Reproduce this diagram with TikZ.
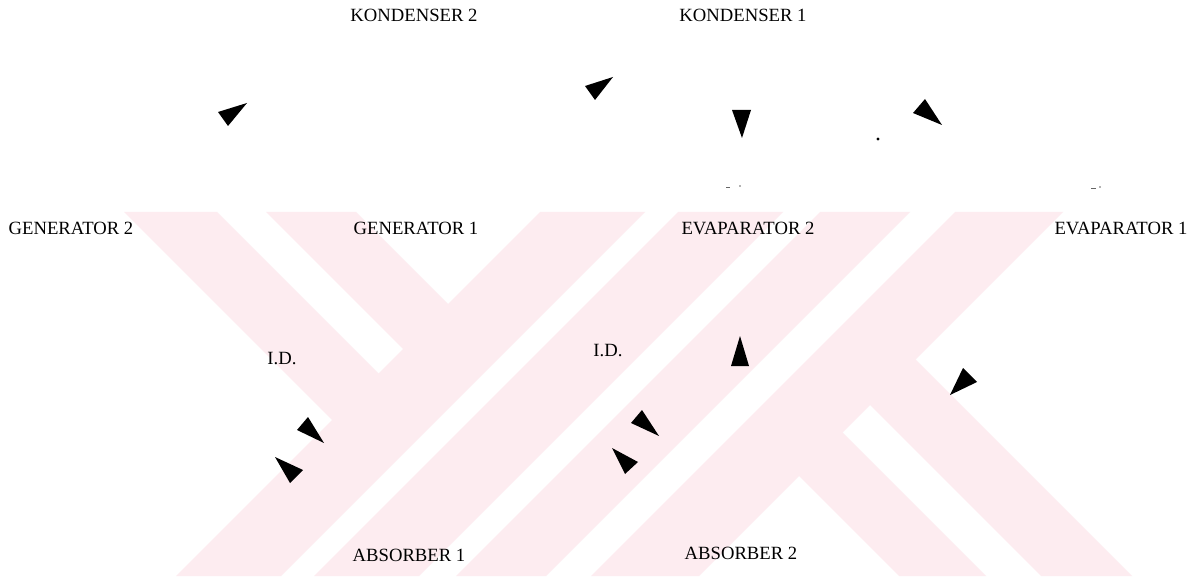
\documentclass[tikz,border=0pt]{standalone}
\usepackage{fontspec}
\setmainfont{Liberation Serif}
\definecolor{wmpink}{RGB}{253,236,240}
\tikzset{
  lbl/.style={inner sep=0pt, font=\fontsize{14}{16}\selectfont},
  band/.style={fill=wmpink, draw=none},
  ahead/.style={fill=black, draw=none},
  speck/.style={fill=black!60, draw=none},
}
\begin{document}
\begin{tikzpicture}[x=0.75pt,y=-0.75pt]
\useasboundingbox (0,0) rectangle (1204,581);
\fill[white] (0,0) rectangle (1204,581);
% watermark bands
\begin{scope}
\clip (0,212) rectangle (1204,576);
\fill[band] (124,212) -- (217,212) -- (382.5,377.5) -- (336,424) -- cycle;
\fill[band] (266,212) -- (356,212) -- (452,308) -- (407,353) -- cycle;
\fill[band] (540,212) -- (645,212) -- (281,576) -- (176,576) -- cycle;
\fill[band] (678,212) -- (783,212) -- (419,576) -- (314,576) -- cycle;
\fill[band] (820,212) -- (910,212) -- (546,576) -- (456,576) -- cycle;
\fill[band] (955,212) -- (1063,212) -- (699,576) -- (591,576) -- cycle;
\fill[band] (796.5,473.5) -- (840,430) -- (986,576) -- (899,576) -- cycle;
\fill[band] (867.5,402.5) -- (913,357) -- (1132,576) -- (1041,576) -- cycle;
\end{scope}
% labels
\node[lbl] (k2) at (414,15) {KONDENSER 2};
\node[lbl] (k1) at (743,15) {KONDENSER 1};
\node[lbl] (g2) at (71,228) {GENERATOR 2};
\node[lbl] (g1) at (416,228) {GENERATOR 1};
\node[lbl] (e2) at (748,228) {EVAPARATOR 2};
\node[lbl] (e1) at (1121,228) {EVAPARATOR 1};
\node[lbl] (id1) at (282,359) {I.D.};
\node[lbl] (id2) at (608,351) {I.D.};
\node[lbl] (a1) at (409,555) {ABSORBER 1};
\node[lbl] (a2) at (741,553) {ABSORBER 2};
% arrowheads
\fill[ahead] (218,112) -- (228,126) -- (247,103) -- cycle;
\fill[ahead] (585,86) -- (595,100) -- (613,77) -- cycle;
\fill[ahead] (732,110) -- (751,110) -- (742,138) -- cycle;
\fill[ahead] (913,113) -- (925,99) -- (942,125) -- cycle;
\fill[ahead] (731,366) -- (749,366) -- (740,336) -- cycle;
\fill[ahead] (963,368) -- (977,382) -- (950,395) -- cycle;
\fill[ahead] (308,417) -- (297,430) -- (324,443) -- cycle;
\fill[ahead] (275,457) -- (303,470) -- (290,483) -- cycle;
\fill[ahead] (642,410) -- (631,423) -- (659,436) -- cycle;
\fill[ahead] (612,448) -- (638,462) -- (625,474) -- cycle;
% scan specks
\fill[black] (878,139) circle (1.6);
\fill[speck] (726,187) rectangle (730,188.5);
\fill[speck] (740,186) circle (0.8);
\fill[speck] (1091,188) rectangle (1096,189.5);
\fill[speck] (1100,187) circle (0.8);
\end{tikzpicture}
\end{document}
